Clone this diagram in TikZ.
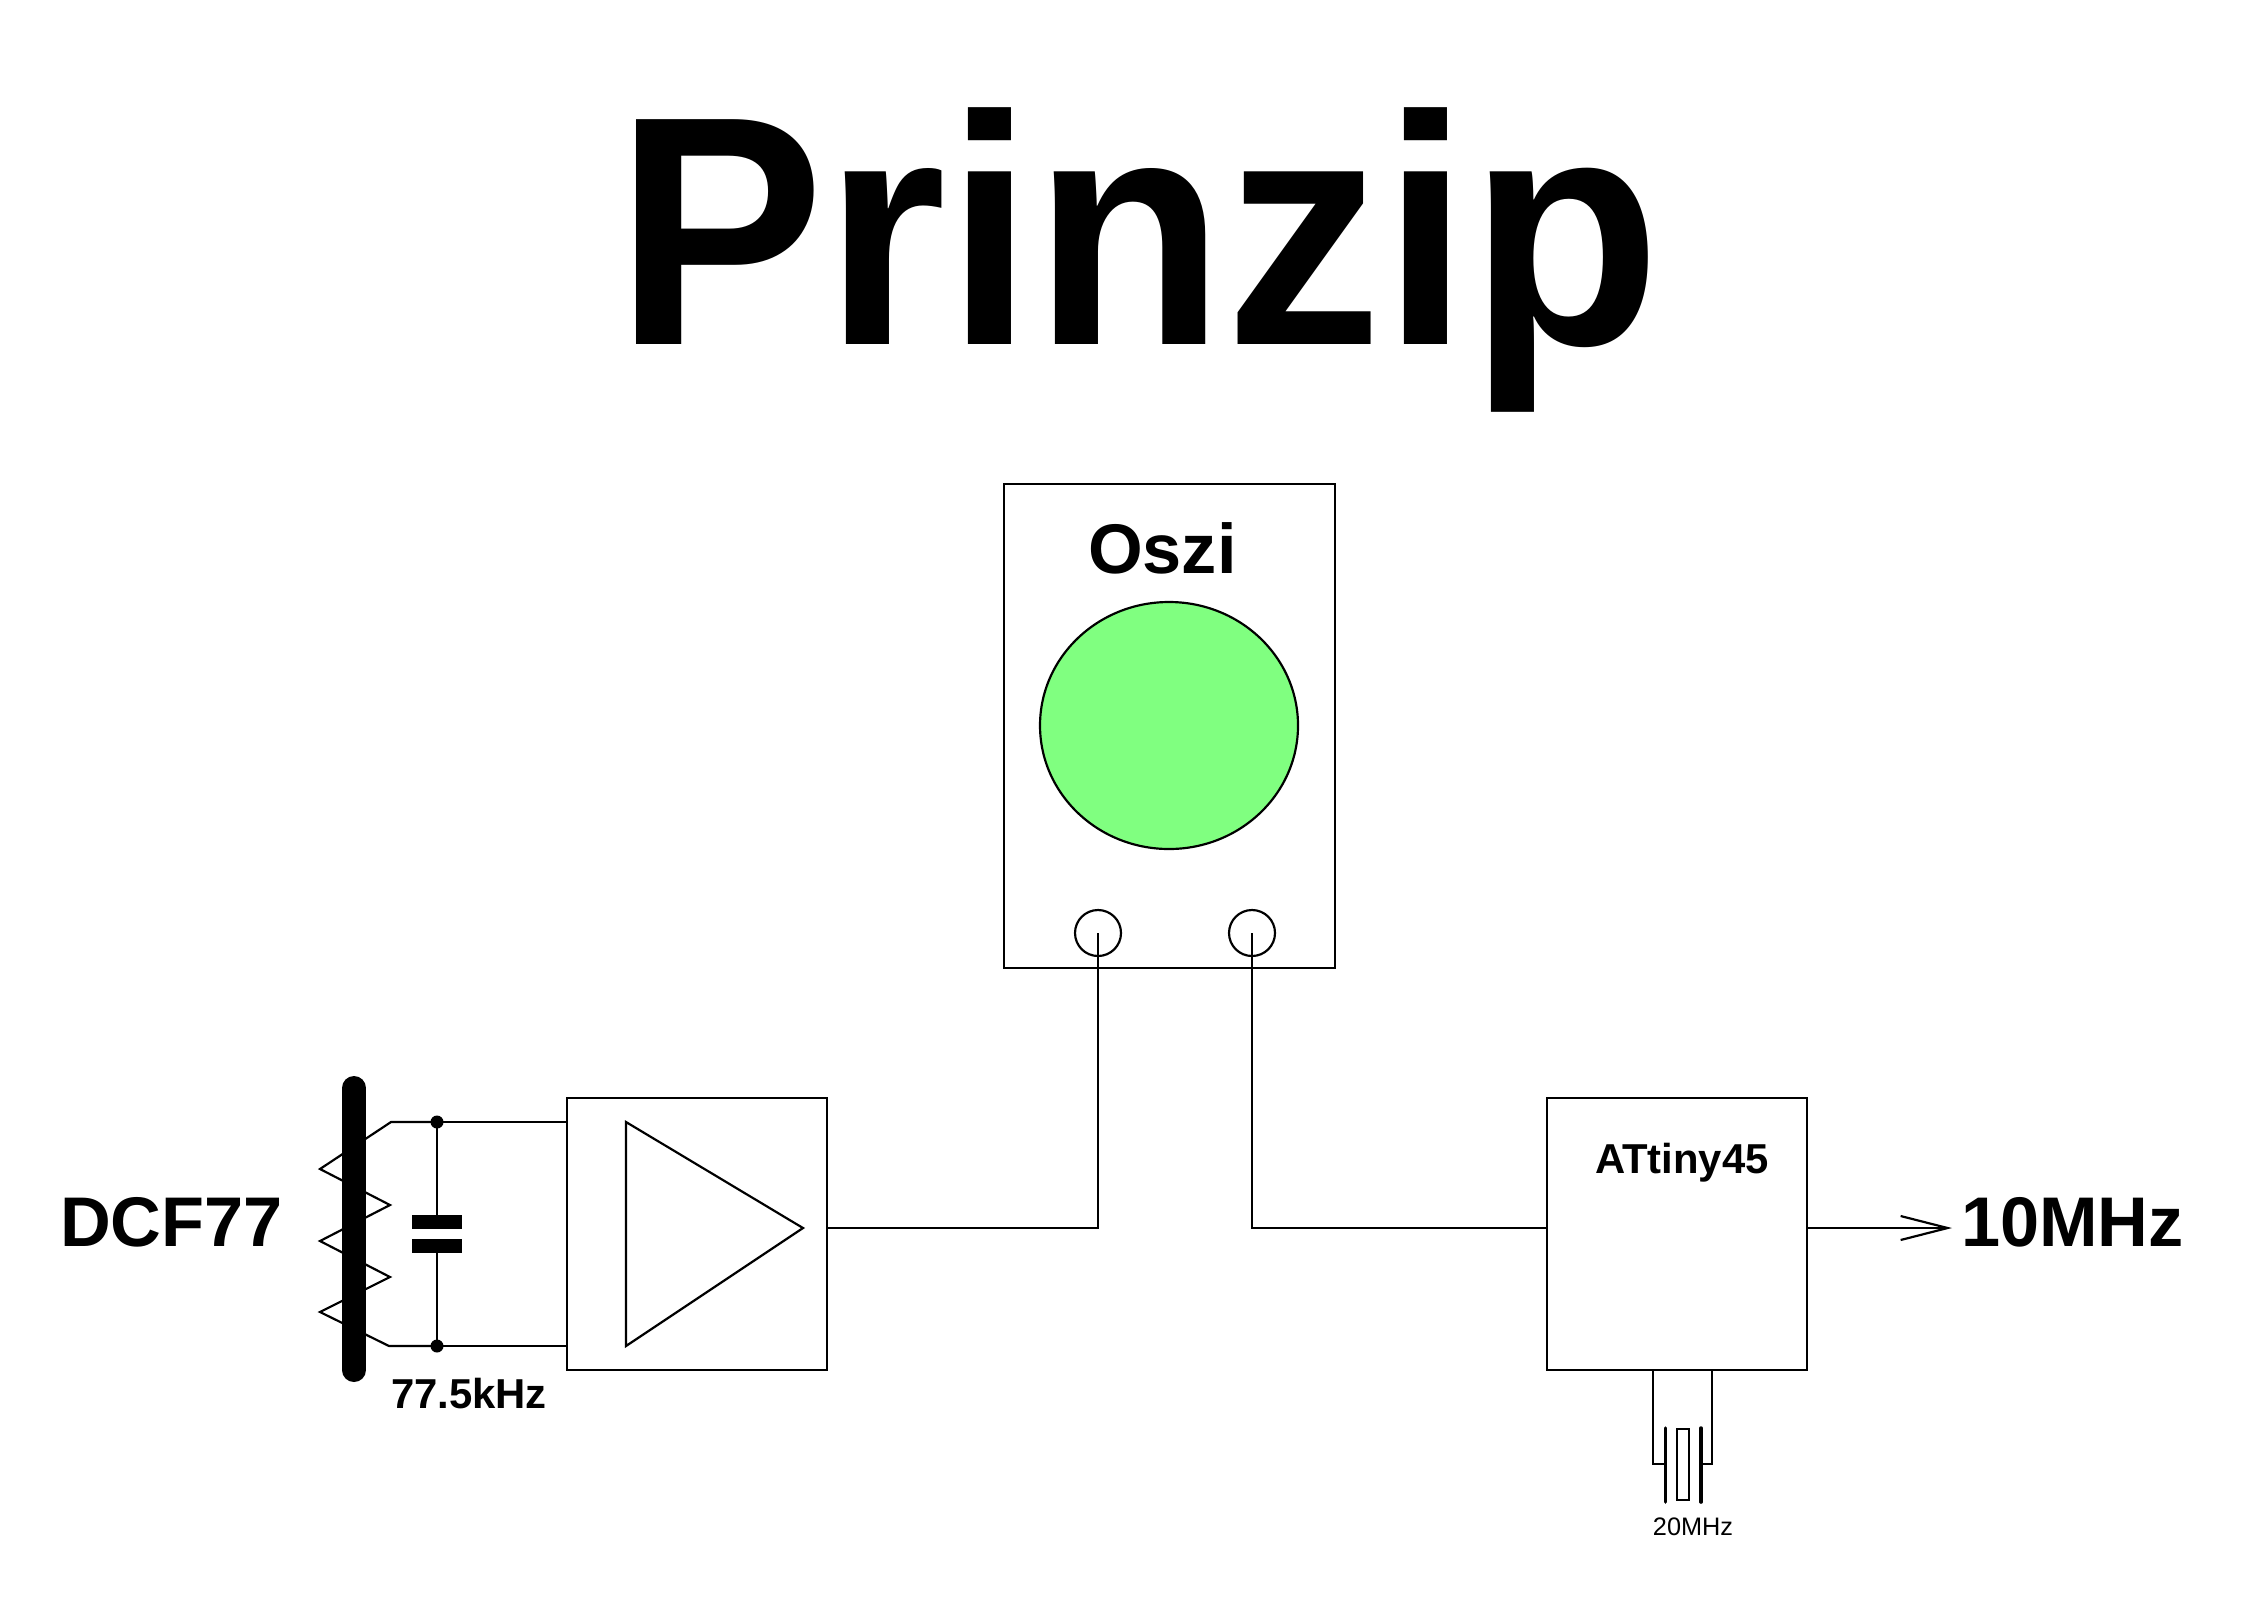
\documentclass[tikz,border=0pt]{standalone}
\usepackage{graphicx}
\usepackage{fontspec}
\setmainfont{Liberation Sans}
\usetikzlibrary{positioning,arrows.meta,shapes.geometric}
\definecolor{screengreen}{RGB}{128,255,128}
\begin{document}
\begin{tikzpicture}[x=1cm,y=-1cm,line width=0.62pt,
    blockbox/.style = {draw=black, rectangle, outer sep=0pt, inner sep=0pt},
    jackring/.style = {circle, draw=black, minimum size=0.46cm, inner sep=0pt, outer sep=0pt},
    wiredot/.style = {circle, fill=black, minimum size=0.13cm, inner sep=0pt, outer sep=0pt},
    plate/.style = {rectangle, fill=black, minimum width=0.5cm, minimum height=0.14cm, inner sep=0pt, outer sep=0pt},
    biglabel/.style = {font=\fontsize{20pt}{20pt}\selectfont\bfseries, inner sep=0pt, anchor=base west},
    smalllabel/.style = {font=\fontsize{11.9pt}{11.9pt}\selectfont\bfseries, inner sep=0pt, anchor=base west}]
  \useasboundingbox (0,0) rectangle (22.5,15.99);

  \node[font=\fontsize{93pt}{93pt}\selectfont\bfseries, inner sep=0pt, anchor=base west] (title) at (6.14,3.44) {\scalebox{0.96}[1]{Prinzip}};

  % scope
  \node[blockbox, minimum width=3.31cm, minimum height=4.84cm] (oszi) at (11.695,7.26) {};
  \node[biglabel] (oszilabel) at (10.87,5.73) {Oszi};
  \node[ellipse, draw=black, fill=screengreen, minimum width=2.58cm, minimum height=2.47cm, inner sep=0pt, outer sep=0pt] (screen) at (11.69,7.255) {};
  \node[jackring] (jackl) at (10.98,9.33) {};
  \node[jackring] (jackr) at (12.52,9.33) {};

  % amplifier
  \node[blockbox, minimum width=2.60cm, minimum height=2.72cm] (amp) at (6.97,12.34) {};
  \coordinate (tipa) at (6.26,11.22);
  \coordinate (tipb) at (6.26,13.46);
  \coordinate (tip) at (8.03,12.28);
  \draw (tipa) -- (tip) -- (tipb) -- cycle;

  % ATtiny
  \node[blockbox, minimum width=2.60cm, minimum height=2.72cm] (tiny) at (16.77,12.34) {};
  \node[smalllabel] (tinylabel) at (15.94,11.73) {ATtiny45};
  \node[biglabel, anchor=base west] (out) at (19.60,12.46) {10MHz};
  \coordinate (arrowend) at (19.52,12.28);

  \draw (amp.east |- tip) -| (jackl.center);
  \draw (jackr.center) |- (tiny.west |- tip);
  \draw[-{Straight Barb[length=0.47cm,width=0.24cm]}] (tiny.east |- tip) -- (arrowend);

  % antenna
  \node[wiredot] (dota) at (4.37,11.22) {};
  \node[wiredot] (dotb) at (4.37,13.46) {};
  \node[plate] (capa) at (4.37,12.22) {};
  \node[plate] (capb) at (4.37,12.46) {};
  \draw (amp.west |- dota) -- (dota.center) -- (capa.center);
  \draw (capb.center) -- (dotb.center) -- (amp.west |- dotb);
  \draw (dota.center) -- (3.91,11.22) -- (3.20,11.69) -- (3.90,12.05) -- (3.20,12.41)
    -- (3.90,12.77) -- (3.20,13.12) -- (3.89,13.46) -- (dotb.center);
  \coordinate (rodtop) at (3.54,10.88);
  \coordinate (rodbot) at (3.54,13.70);
  \draw[line width=0.24cm, line cap=round] (rodtop) -- (rodbot);
  \node[biglabel] (dcf) at (0.59,12.46) {DCF77};
  \node[smalllabel] (freq) at (3.90,14.08) {77.5kHz};

  % crystal
  \node[rectangle, draw=black, minimum width=0.12cm, minimum height=0.71cm, inner sep=0pt, outer sep=0pt] (quartz) at (16.83,14.645) {};
  \coordinate (platel) at (16.655,14.28);
  \coordinate (plater) at (17.01,14.28);
  \draw[line width=1pt, line cap=round] (platel) -- (16.655,15.02);
  \draw[line width=1pt, line cap=round] (plater) -- (17.01,15.02);
  \draw (tiny.south -| 16.53,0) -- (16.53,14.64) -- (16.655,14.64);
  \draw (tiny.south -| 17.12,0) -- (17.12,14.64) -- (17.01,14.64);
  \node[font=\fontsize{7.2pt}{7.2pt}\selectfont, inner sep=0pt, xshift=0.1cm] (xtal) [below=0.17cm of quartz] {20MHz};
\end{tikzpicture}
\end{document}
